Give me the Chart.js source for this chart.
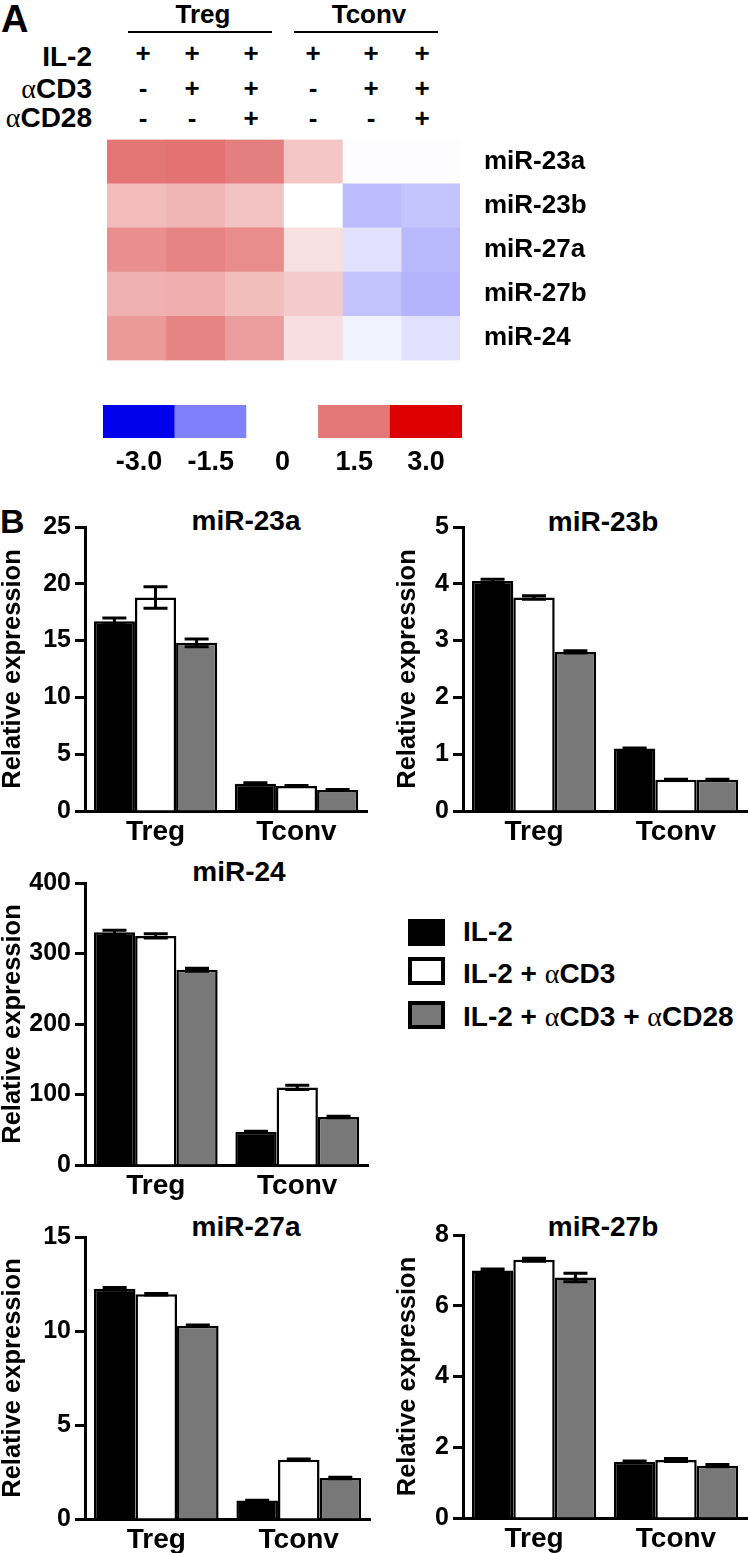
<!DOCTYPE html>
<html><head><meta charset="utf-8">
<script src="https://cdn.jsdelivr.net/npm/chart.js@4.4.1/dist/chart.umd.min.js"></script>
<style>
html,body{margin:0;padding:0;background:#fff;}
body{width:748px;height:1553px;position:relative;overflow:hidden;font-family:"Liberation Sans",Arial,sans-serif;font-weight:bold;color:#000;}
.c{position:absolute;line-height:1;white-space:nowrap;transform:translate(-50%,-50%);}
.r{position:absolute;line-height:1;white-space:nowrap;transform:translate(-100%,-50%);}
.l{position:absolute;line-height:1;white-space:nowrap;transform:translate(0,-50%);}
.w{position:absolute;}
.g{font-family:"Liberation Serif","Times New Roman",serif;font-weight:normal;}
.sq{position:absolute;box-sizing:border-box;width:37px;}
</style></head><body>
<div id="txt"></div>
<div class="w" style="left:0;top:100px"><canvas id="heat" width="748" height="300"></canvas></div>
<div class="w" style="left:0;top:395px"><canvas id="cbar" width="748" height="90"></canvas></div>
<div class="w" style="left:0;top:490px"><canvas id="c23a" width="375" height="370"></canvas></div>
<div class="w" style="left:375px;top:490px"><canvas id="c23b" width="373" height="370"></canvas></div>
<div class="w" style="left:0;top:845px"><canvas id="c24" width="375" height="370"></canvas></div>
<div class="w" style="left:0;top:1200px"><canvas id="c27a" width="375" height="353"></canvas></div>
<div class="w" style="left:375px;top:1200px"><canvas id="c27b" width="373" height="353"></canvas></div>
<div id="legend"></div>
<script>
// ---------- Panel A data ----------
const heatGroups = ['Treg', 'Tconv'];
const condRowLabels = ['IL-2', 'αCD3', 'αCD28'];
const condIL2  = ['+', '+', '+', '+', '+', '+'];
const condCD3  = ['-', '+', '+', '-', '+', '+'];
const condCD28 = ['-', '-', '+', '-', '-', '+'];
const heatColumns = ['Treg IL-2', 'Treg IL-2+αCD3', 'Treg IL-2+αCD3+αCD28', 'Tconv IL-2', 'Tconv IL-2+αCD3', 'Tconv IL-2+αCD3+αCD28'];
const heatRows = ['miR-23a', 'miR-23b', 'miR-27a', 'miR-27b', 'miR-24'];
const heat_miR23a = [1.53, 1.57, 1.43, 0.63, -0.02, -0.02];
const heat_miR23b = [0.74, 0.82, 0.67, 0.00, -0.79, -0.69];
const heat_miR27a = [1.24, 1.38, 1.28, 0.34, -0.34, -0.84];
const heat_miR27b = [0.87, 0.89, 0.73, 0.59, -0.72, -0.89];
const heat_miR24  = [1.12, 1.37, 1.10, 0.37, -0.15, -0.35];
const colorbarLabels = ['-3.0', '-1.5', '0', '1.5', '3.0'];
const colorbarValues = [-3, -1.5, 0, 1.5, 3];

// ---------- Panel B data ----------
const groups = ['Treg', 'Tconv'];
const seriesNames = ['IL-2', 'IL-2 + αCD3', 'IL-2 + αCD3 + αCD28'];
const miR23a_IL2 = [16.7, 2.4];   const miR23a_IL2_err = [0.3, 0.08];
const miR23a_CD3 = [18.8, 2.2];   const miR23a_CD3_err = [0.95, 0.05];
const miR23a_CD28 = [14.8, 1.85]; const miR23a_CD28_err = [0.35, 0.05];
const miR23b_IL2 = [4.05, 1.1];   const miR23b_IL2_err = [0.03, 0.01];
const miR23b_CD3 = [3.76, 0.55];  const miR23b_CD3_err = [0.03, 0.01];
const miR23b_CD28 = [2.8, 0.55];  const miR23b_CD28_err = [0.02, 0.01];
const miR24_IL2 = [330, 47];      const miR24_IL2_err = [3, 1];
const miR24_CD3 = [325, 110];     const miR24_CD3_err = [3, 3];
const miR24_CD28 = [277, 68];     const miR24_CD28_err = [2, 1];
const miR27a_IL2 = [12.25, 0.98]; const miR27a_IL2_err = [0.07, 0.02];
const miR27a_CD3 = [11.95, 3.15]; const miR27a_CD3_err = [0.04, 0.04];
const miR27a_CD28 = [10.28, 2.18];const miR27a_CD28_err = [0.04, 0.04];
const miR27b_IL2 = [7.0, 1.59];   const miR27b_IL2_err = [0.04, 0.02];
const miR27b_CD3 = [7.3, 1.64];   const miR27b_CD3_err = [0.04, 0.04];
const miR27b_CD28 = [6.8, 1.48];  const miR27b_CD28_err = [0.12, 0.03];

// ---------- styles ----------
const FONT = '"Liberation Sans", Arial, sans-serif';
Chart.defaults.font.family = FONT;
Chart.defaults.font.weight = 'bold';
Chart.defaults.color = '#000';
const barFills = ['#000000', '#ffffff', '#787878'];

function lerp(a, b, t) { return Math.round(a + (b - a) * t); }
function heatColor(v) {
  const white = [255, 255, 255];
  let c;
  if (v >= 0) {
    const mid = [228, 120, 120], end = [220, 0, 0];
    if (v <= 1.5) { const t = v / 1.5; c = white.map((w, i) => lerp(w, mid[i], t)); }
    else { const t = Math.min(1, (v - 1.5) / 1.5); c = mid.map((m, i) => lerp(m, end[i], t)); }
  } else {
    const a = -v, mid = [128, 128, 250], end = [0, 0, 235];
    if (a <= 1.5) { const t = a / 1.5; c = white.map((w, i) => lerp(w, mid[i], t)); }
    else { const t = Math.min(1, (a - 1.5) / 1.5); c = mid.map((m, i) => lerp(m, end[i], t)); }
  }
  return `rgb(${c[0]},${c[1]},${c[2]})`;
}

// ---------- text overlay (panel A header, titles) ----------
const txt = document.getElementById('txt');
function addText(cls, x, y, size, html) {
  const d = document.createElement('div');
  d.className = cls; d.style.left = x + 'px'; d.style.top = y + 'px'; d.style.fontSize = size + 'px';
  d.innerHTML = html; txt.appendChild(d);
}
function greek(s) { return s.replace(/α/g, '<span class="g">α</span>'); }
addText('l', 1, 19, 38, 'A');
addText('l', 0, 521, 34, 'B');
addText('c', 203, 14, 26, heatGroups[0]);
addText('c', 369, 14, 26, heatGroups[1]);
[[128, 144], [294, 144]].forEach(([x, w]) => {
  const d = document.createElement('div');
  d.style.cssText = `position:absolute;left:${x}px;top:31px;width:${w}px;height:2px;background:#000`;
  txt.appendChild(d);
});
const condRowsY = [57, 89, 118];
condRowLabels.forEach((lab, i) => addText('r', 92, condRowsY[i], 28, greek(lab)));
const signX = [143, 192, 251, 313, 371, 422];
[condIL2, condCD3, condCD28].forEach((row, ri) => {
  const y = [53, 88, 118][ri];
  row.forEach((s, ci) => addText('c', signX[ci], y, 26, s));
});
const titles = [['miR-23a', 246, 521], ['miR-23b', 603, 522], ['miR-24', 239, 872], ['miR-27a', 246, 1227], ['miR-27b', 603, 1227]];
titles.forEach(([t, x, y]) => addText('c', x, y, 28, t));

// legend
const leg = document.getElementById('legend');
const legSq = [[919, 27], [957, 28], [1001, 28]];
const legTextY = [932, 974, 1017];
seriesNames.forEach((n, i) => {
  const s = document.createElement('div');
  s.className = 'sq';
  s.style.cssText += `left:408px;top:${legSq[i][0]}px;height:${legSq[i][1]}px;background:${barFills[i]};border:4px solid #000;`;
  leg.appendChild(s);
  const d = document.createElement('div');
  d.className = 'l'; d.style.left = '463px'; d.style.top = legTextY[i] + 'px'; d.style.fontSize = '28px';
  d.innerHTML = greek(n); leg.appendChild(d);
});

// ---------- heatmap ----------
const heatMatrix = [heat_miR23a, heat_miR23b, heat_miR27a, heat_miR27b, heat_miR24];
new Chart(document.getElementById('heat'), {
  type: 'bar',
  data: {
    labels: heatRows,
    datasets: heatColumns.map((c, ci) => ({
      label: c,
      data: heatRows.map(() => 1),
      backgroundColor: heatMatrix.map(row => heatColor(row[ci])),
      borderWidth: 0, barPercentage: 1, categoryPercentage: 1
    }))
  },
  options: {
    indexAxis: 'y', responsive: false, animation: false,
    plugins: { legend: { display: false }, tooltip: { enabled: false } },
    layout: { padding: { left: 107, top: 37, bottom: 13, right: 0 } },
    scales: {
      x: { stacked: true, display: false, min: 0, max: heatColumns.length },
      y: {
        stacked: true, position: 'right',
        grid: { display: false, drawTicks: false }, border: { display: false },
        ticks: { color: '#000', font: { size: 26, weight: 'bold' }, padding: 24 },
        afterFit: s => { s.width = 288; }
      }
    }
  }
});

// ---------- colour key ----------
new Chart(document.getElementById('cbar'), {
  type: 'bar',
  data: {
    labels: colorbarLabels,
    datasets: [{ data: colorbarValues.map(() => 1), backgroundColor: colorbarValues.map(heatColor), borderWidth: 0, barPercentage: 1, categoryPercentage: 1 }]
  },
  options: {
    responsive: false, animation: false,
    plugins: { legend: { display: false }, tooltip: { enabled: false } },
    layout: { padding: { left: 103, right: 286, top: 10, bottom: 0 } },
    scales: {
      y: { display: false, min: 0, max: 1 },
      x: {
        grid: { display: false, drawTicks: false }, border: { display: false },
        ticks: { color: '#000', font: { size: 27, weight: 'bold' }, padding: 8, maxRotation: 0 },
        afterFit: s => { s.height = 47; }
      }
    }
  }
});

// ---------- bar charts ----------
const errorBars = {
  id: 'errorBars',
  afterDatasetsDraw(chart) {
    const ctx = chart.ctx, ys = chart.scales.y;
    chart.data.datasets.forEach((ds, i) => {
      if (!ds.errors) return;
      chart.getDatasetMeta(i).data.forEach((bar, j) => {
        const v = ds.data[j], e = ds.errors[j];
        if (!e) return;
        const yt = ys.getPixelForValue(v + e), yb = ys.getPixelForValue(v - e);
        const half = 12;
        ctx.save();
        ctx.strokeStyle = '#000'; ctx.lineWidth = 3;
        ctx.beginPath();
        ctx.moveTo(bar.x, yt); ctx.lineTo(bar.x, yb);
        ctx.moveTo(bar.x - half, yt); ctx.lineTo(bar.x + half, yt);
        ctx.moveTo(bar.x - half, yb); ctx.lineTo(bar.x + half, yb);
        ctx.stroke();
        ctx.restore();
      });
    });
  }
};

function barChart(id, series, errs, yMax, step, L) {
  return new Chart(document.getElementById(id), {
    type: 'bar',
    data: {
      labels: groups,
      datasets: series.map((d, i) => ({
        label: seriesNames[i], data: d, errors: errs[i],
        backgroundColor: barFills[i], borderColor: '#000', borderWidth: 2.5,
        barPercentage: 1, categoryPercentage: 0.875
      }))
    },
    options: {
      responsive: false, animation: false,
      plugins: { legend: { display: false }, tooltip: { enabled: false } },
      layout: { padding: { left: 0, right: L.right, top: L.top, bottom: 0 } },
      scales: {
        x: {
          grid: { display: false, drawTicks: false },
          border: { display: true, width: 3, color: '#000' },
          ticks: { color: '#000', font: { size: 28, weight: 'bold' }, padding: 4, maxRotation: 0 },
          afterFit: s => { s.height = L.xh; }
        },
        y: {
          min: 0, max: yMax,
          ticks: { stepSize: step, color: '#000', font: { size: 25, weight: 'bold' }, padding: 4 },
          grid: { display: true, drawOnChartArea: false, drawTicks: true, tickLength: 10, tickWidth: 3, tickColor: '#000', color: '#000' },
          border: { display: true, width: 3, color: '#000' },
          title: { display: true, text: 'Relative expression', color: '#000', font: { size: 25.5, weight: 'bold', lineHeight: 1 }, padding: { top: L.tp, bottom: 0 } },
          afterFit: s => { s.width = L.yw; }
        }
      }
    },
    plugins: [errorBars]
  });
}

barChart('c23a', [miR23a_IL2, miR23a_CD3, miR23a_CD28], [miR23a_IL2_err, miR23a_CD3_err, miR23a_CD28_err], 25, 5,
  { top: 37, right: 8, xh: 49, yw: 85, tp: 0 });
barChart('c23b', [miR23b_IL2, miR23b_CD3, miR23b_CD28], [miR23b_IL2_err, miR23b_CD3_err, miR23b_CD28_err], 5, 1,
  { top: 37, right: 1, xh: 49, yw: 88, tp: 20.5 });
barChart('c24', [miR24_IL2, miR24_CD3, miR24_CD28], [miR24_IL2_err, miR24_CD3_err, miR24_CD28_err], 400, 100,
  { top: 38, right: 7, xh: 50, yw: 85, tp: 0 });
barChart('c27a', [miR27a_IL2, miR27a_CD3, miR27a_CD28], [miR27a_IL2_err, miR27a_CD3_err, miR27a_CD28_err], 15, 5,
  { top: 37, right: 5, xh: 34, yw: 85, tp: 0 });
barChart('c27b', [miR27b_IL2, miR27b_CD3, miR27b_CD28], [miR27b_IL2_err, miR27b_CD3_err, miR27b_CD28_err], 8, 2,
  { top: 35, right: 1, xh: 35, yw: 88, tp: 20.5 });
</script>
</body></html>
